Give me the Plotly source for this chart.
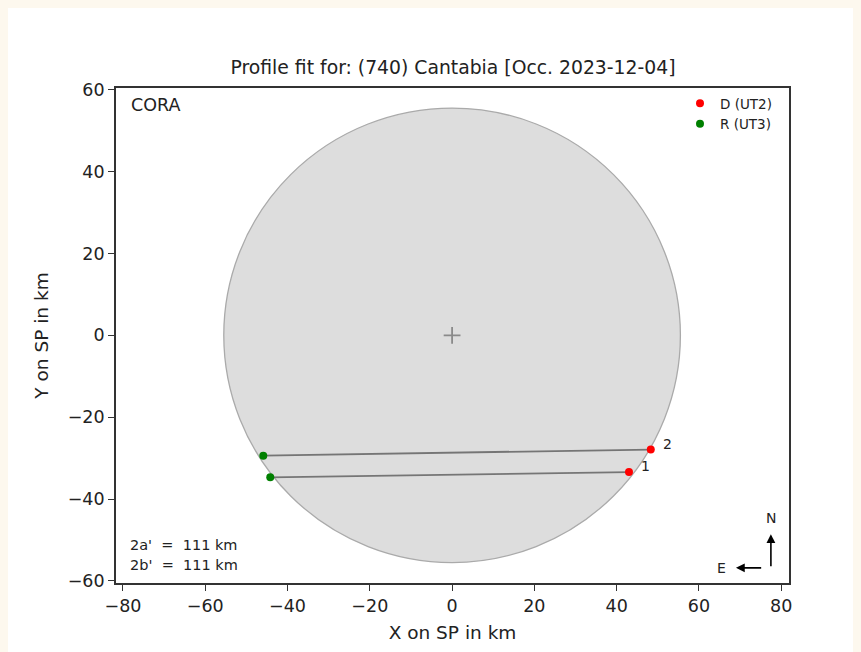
import plotly.graph_objects as go

# ---- data ----
title_text = "Profile fit for: (740) Cantabia [Occ. 2023-12-04]"
chord_ids = ["1", "2"]
d_x = [43.0, 48.3]      # disappearance (UT2) points
d_y = [-33.4, -27.9]
r_x = [-44.2, -45.9]    # reappearance (UT3) points
r_y = [-34.7, -29.4]
center_x = [0.0]
center_y = [0.0]
radius_km = 55.5
x_ticks = [-80, -60, -40, -20, 0, 20, 40, 60, 80]
y_ticks = [-60, -40, -20, 0, 20, 40, 60]
x_range = [-81.7, 81.9]
y_range = [-60.5, 60.4]

FONT = "DejaVu Sans"
OFF = 8                       # browser body margin
W, H = 861 - OFF, 652 - OFF
ML, MR, MT, MB = 108, 72, 80, 64
PW, PH = W - ML - MR, H - MT - MB

def px2paper_x(px):           # screen pixel -> paper coords
    return (px - OFF - ML) / PW

def px2paper_y(py):
    return (H - MB - (py - OFF)) / PH

TXT = "#222222"

fig = go.Figure()

# chords
cx, cy = [], []
for i in range(len(chord_ids)):
    cx += [r_x[i], d_x[i], None]
    cy += [r_y[i], d_y[i], None]
fig.add_trace(go.Scatter(x=cx, y=cy, mode="lines", line=dict(color="#757575", width=1.8),
                         showlegend=False, hoverinfo="skip"))

fig.add_trace(go.Scatter(x=d_x, y=d_y, mode="markers", name="D (UT2)",
                         marker=dict(color="red", size=8)))
fig.add_trace(go.Scatter(x=r_x, y=r_y, mode="markers", name="R (UT3)",
                         marker=dict(color="green", size=8)))

fig.add_trace(go.Scatter(x=center_x, y=center_y, mode="markers", showlegend=False,
                         marker=dict(symbol="cross-thin", size=12,
                                     line=dict(color="#8a8a8a", width=1.8))))

# fitted profile circle
fig.add_shape(type="circle", xref="x", yref="y",
              x0=center_x[0] - radius_km, x1=center_x[0] + radius_km,
              y0=center_y[0] - radius_km, y1=center_y[0] + radius_km,
              fillcolor="#dddddd", line=dict(color="#aaaaaa", width=1.3), layer="below")

ann = []
for i, cid in enumerate(chord_ids):
    ann.append(dict(x=d_x[i], y=d_y[i], xref="x", yref="y", text=cid, showarrow=False,
                    xshift=17, yshift=6, font=dict(family=FONT, size=14, color=TXT)))

ann.append(dict(x=px2paper_x(129), y=px2paper_y(105), xref="paper", yref="paper",
                text="CORA", showarrow=False, xanchor="left", yanchor="middle",
                font=dict(family=FONT, size=17.5, color=TXT)))
nb = "\u00a0"
ann.append(dict(x=px2paper_x(128), y=px2paper_y(550), xref="paper", yref="paper",
                text=f"2a'{nb}{nb}={nb}{nb}{2*radius_km:.0f} km", showarrow=False,
                xanchor="left", yanchor="middle", font=dict(family=FONT, size=14.5, color=TXT)))
ann.append(dict(x=px2paper_x(128), y=px2paper_y(570), xref="paper", yref="paper",
                text=f"2b'{nb}{nb}={nb}{nb}{2*radius_km:.0f} km", showarrow=False,
                xanchor="left", yanchor="middle", font=dict(family=FONT, size=14.5, color=TXT)))

# N / E compass arrows
ann.append(dict(x=77.5, y=-48.6, ax=77.5, ay=-56.8, xref="x", yref="y", axref="x", ayref="y",
                text="", showarrow=True, arrowhead=2, arrowsize=1.1, arrowwidth=1.6, arrowcolor="black"))
ann.append(dict(x=77.5, y=-44.6, xref="x", yref="y", text="N", showarrow=False,
                font=dict(family=FONT, size=14, color=TXT)))
ann.append(dict(x=69.0, y=-56.8, ax=75.5, ay=-56.8, xref="x", yref="y", axref="x", ayref="y",
                text="", showarrow=True, arrowhead=2, arrowsize=1.1, arrowwidth=1.6, arrowcolor="black"))
ann.append(dict(x=65.4, y=-56.8, xref="x", yref="y", text="E", showarrow=False,
                font=dict(family=FONT, size=14, color=TXT)))

axis_common = dict(showline=True, linecolor="#333333", linewidth=1.8, mirror=True,
                   ticks="outside", ticklen=6, tickwidth=1.3, tickcolor="#333333",
                   showgrid=False, zeroline=False,
                   tickfont=dict(family=FONT, size=17.5, color=TXT))

fig.update_layout(
    width=W, height=H,
    margin=dict(l=ML, r=MR, t=MT, b=MB),
    paper_bgcolor="white", plot_bgcolor="white",
    title=dict(text=title_text, x=px2paper_x(453), xref="paper", xanchor="center",
               y=1 - (67 - OFF) / H, yref="container", yanchor="middle",
               font=dict(family=FONT, size=18.8, color=TXT)),
    xaxis=dict(range=x_range, tickvals=x_ticks,
               title=dict(text="X on SP in km", standoff=11,
                          font=dict(family=FONT, size=18.5, color=TXT)), **axis_common),
    yaxis=dict(range=y_range, tickvals=y_ticks,
               title=dict(text="Y on SP in km", standoff=14,
                          font=dict(family=FONT, size=18.5, color=TXT)), **axis_common),
    legend=dict(x=px2paper_x(777), y=px2paper_y(88), xanchor="right", yanchor="top",
                bgcolor="rgba(0,0,0,0)", font=dict(family=FONT, size=13.5, color=TXT),
                itemwidth=30, tracegroupgap=0),
    annotations=ann,
    showlegend=True,
)

fig.write_html("out.html",
               post_script="document.body.style.background='#fdf8ee';")
